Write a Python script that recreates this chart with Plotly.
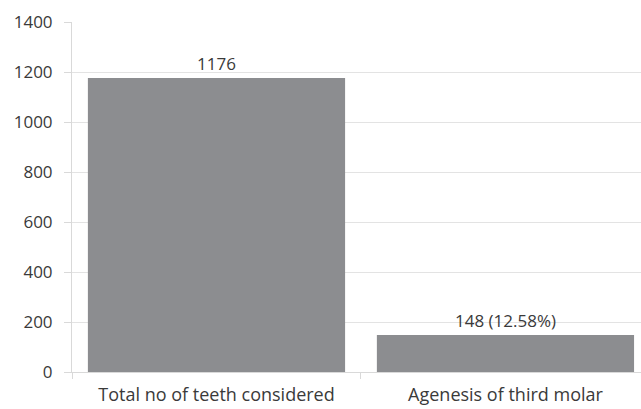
import plotly.graph_objects as go

categories = ["Total no of teeth considered", "Agenesis of third molar"]
values = [1176, 148]
labels = ["1176", "148 (12.58%)"]
y_ticks = [0, 200, 400, 600, 800, 1000, 1200, 1400]

font_family = "Open Sans, Liberation Sans, sans-serif"
text_color = "#3a3a3a"

fig = go.Figure(go.Bar(
    x=categories,
    y=values,
    text=labels,
    textposition="outside",
    cliponaxis=False,
    textfont=dict(family=font_family, size=17, color=text_color),
    marker=dict(color="#8c8d90", line=dict(width=0)),
))

fig.update_layout(
    width=641, height=409,
    margin=dict(l=72, r=0, t=22, b=37),
    paper_bgcolor="white", plot_bgcolor="white",
    bargap=0.11,
    showlegend=False,
    font=dict(family=font_family, size=17, color=text_color),
)
fig.update_xaxes(
    range=[-0.5, 1.469],
    tickson="boundaries",
    ticks="outside", ticklen=6, tickcolor="#d9d9d9",
    showline=True, linecolor="#d9d9d9", linewidth=1,
    showgrid=False,
    ticklabelstandoff=6,
    tickfont=dict(family=font_family, size=18, color=text_color),
)
fig.update_yaxes(
    range=[0, 1400],
    tickvals=y_ticks,
    ticks="outside", ticklen=7, tickcolor="#d9d9d9",
    showline=True, linecolor="#d9d9d9", linewidth=1,
    showgrid=True, gridcolor="#e3e3e3", gridwidth=1,
    zeroline=False,
    ticklabelstandoff=8,
    tickfont=dict(family=font_family, size=17, color=text_color),
)

fig.write_html("out.html")
